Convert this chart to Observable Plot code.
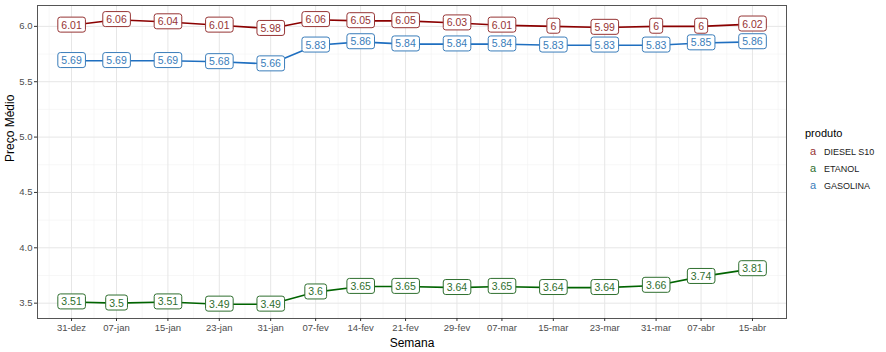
<!DOCTYPE html>
<html>
<head>
<meta charset="utf-8">
<script src="https://cdn.jsdelivr.net/npm/d3@7"></script>
<script src="https://cdn.jsdelivr.net/npm/@observablehq/plot@0.6"></script>
<style>
  body { margin: 0; background: #fff; font-family: Arial, "Liberation Sans", sans-serif; }
  #wrap { position: relative; width: 886px; height: 352px; }
  #legend { position: absolute; left: 805px; top: 127px; font-family: Arial, "Liberation Sans", sans-serif; }
  #legend .title { font-size: 11px; font-weight: normal; color: #000; margin-bottom: 4px; }
  #legend .row { font-size: 9px; color: #1a1a1a; height: 17px; line-height: 17px; white-space: nowrap; }
  #legend .key { display: inline-block; width: 12px; text-align: center; font-size: 11px; margin-left: 2px; margin-right: 5px; }
</style>
</head>
<body>
<div id="wrap"><div id="legend"></div></div>
<script>
// ---- data ----
const weeks = ["2023-12-31","2024-01-07","2024-01-15","2024-01-23","2024-01-31","2024-02-07","2024-02-14","2024-02-21","2024-02-29","2024-03-07","2024-03-15","2024-03-23","2024-03-31","2024-04-07","2024-04-15"];
const weekLabels = ["31-dez","07-jan","15-jan","23-jan","31-jan","07-fev","14-fev","21-fev","29-fev","07-mar","15-mar","23-mar","31-mar","07-abr","15-abr"];
const produtos = ["DIESEL S10","ETANOL","GASOLINA"];
const diesel   = [6.01,6.06,6.04,6.01,5.98,6.06,6.05,6.05,6.03,6.01,6.00,5.99,6.00,6.00,6.02];
const etanol   = [3.51,3.50,3.51,3.49,3.49,3.60,3.65,3.65,3.64,3.65,3.64,3.64,3.66,3.74,3.81];
const gasolina = [5.69,5.69,5.69,5.68,5.66,5.83,5.86,5.84,5.84,5.84,5.83,5.83,5.83,5.85,5.86];
const yTicks = [3.5,4.0,4.5,5.0,5.5,6.0];
const yMinor = [3.75,4.25,4.75,5.25,5.75];

const lineColors  = {"DIESEL S10":"#8B0000","ETANOL":"#006400","GASOLINA":"#1F6FC0"};
const labelColors = {"DIESEL S10":"#963434","ETANOL":"#2F6F2F","GASOLINA":"#3A7DBA"};

// ---- build table ----
const dates = weeks.map(d => new Date(d + "T00:00:00Z"));
const series = {"DIESEL S10": diesel, "ETANOL": etanol, "GASOLINA": gasolina};
const data = [];
for (const p of produtos) series[p].forEach((v, i) => data.push({produto: p, semana: dates[i], preco: v}));

// ggplot-like 5% expansion
const xt = dates.map(d => +d);
const xMin = d3.min(xt), xMax = d3.max(xt), xSpan = xMax - xMin;
const xDomain = [new Date(xMin - 0.05 * xSpan), new Date(xMax + 0.05 * xSpan)];
const yMin = d3.min(data, d => d.preco), yMax = d3.max(data, d => d.preco), ySpan = yMax - yMin;
const yDomain = [yMin - 0.05 * ySpan, yMax + 0.05 * ySpan];

// minor x breaks: midpoints, extended one half-step at ends if inside limits
const xMinorT = [];
for (let i = 0; i < xt.length - 1; i++) xMinorT.push((xt[i] + xt[i + 1]) / 2);
const firstMinor = xt[0] - (xt[1] - xt[0]) / 2;
const lastMinor = xt[xt.length - 1] + (xt[xt.length - 1] - xt[xt.length - 2]) / 2;
if (firstMinor >= +xDomain[0]) xMinorT.unshift(firstMinor);
if (lastMinor <= +xDomain[1]) xMinorT.push(lastMinor);
const xMinor = xMinorT.map(t => new Date(t));

const labelMap = new Map(xt.map((t, i) => [t, weekLabels[i]]));
const font = "Arial, 'Liberation Sans', sans-serif";

const marks = [
  Plot.ruleY(yMinor, {stroke: "#f2f2f2", strokeWidth: 0.6}),
  Plot.ruleX(xMinor, {stroke: "#f2f2f2", strokeWidth: 0.6}),
  Plot.ruleY(yTicks, {stroke: "#e6e6e6", strokeWidth: 1}),
  Plot.ruleX(dates, {stroke: "#e6e6e6", strokeWidth: 1}),
  Plot.frame({stroke: "#555", strokeWidth: 1}),
  Plot.axisY({ticks: yTicks, tickFormat: d3.format(".1f"), tickSize: 3, tickPadding: 2, stroke: "#333", fill: "#4d4d4d", fontSize: 9.5, label: null}),
  Plot.axisX({ticks: dates, tickFormat: d => labelMap.get(+d), tickSize: 3, tickPadding: 3, stroke: "#333", fill: "#4d4d4d", fontSize: 9.5, label: null}),
  Plot.text(["Semana"], {frameAnchor: "bottom", lineAnchor: "middle", dy: 25, fontSize: 12, fill: "#000"}),
  Plot.text(["Preço Médio"], {frameAnchor: "left", lineAnchor: "middle", rotate: -90, dx: -27, fontSize: 12, fill: "#000"})
];
for (const p of produtos) {
  marks.push(Plot.line(data.filter(d => d.produto === p), {x: "semana", y: "preco", stroke: lineColors[p], strokeWidth: 1.6}));
}
for (const p of produtos) {
  marks.push(Plot.text(data.filter(d => d.produto === p), {
    x: "semana", y: "preco", text: d => String(d.preco), fill: labelColors[p],
    fontSize: 10.5, ariaDescription: "label-" + p
  }));
}

const chart = Plot.plot({
  width: 886, height: 352,
  marginLeft: 37, marginRight: 100, marginTop: 5, marginBottom: 34,
  style: {fontFamily: font, background: "#fff"},
  x: {type: "utc", domain: xDomain},
  y: {domain: yDomain},
  marks
});
const wrap = document.getElementById("wrap");
wrap.insertBefore(chart, wrap.firstChild);

// label boxes (geom_label style) behind each label text
for (const p of produtos) {
  const g = chart.querySelector(`g[aria-description="label-${p}"]`);
  if (!g) continue;
  for (const t of Array.from(g.querySelectorAll("text"))) {
    const b = t.getBBox();
    const padX = 3.5, padY = 1.5;
    const r = document.createElementNS("http://www.w3.org/2000/svg", "rect");
    r.setAttribute("x", b.x - padX);
    r.setAttribute("y", b.y - padY);
    r.setAttribute("width", b.width + 2 * padX);
    r.setAttribute("height", b.height + 2 * padY);
    r.setAttribute("rx", 2.5);
    r.setAttribute("fill", "#fff");
    r.setAttribute("stroke", labelColors[p]);
    r.setAttribute("stroke-width", 1);
    if (t.getAttribute("transform")) r.setAttribute("transform", t.getAttribute("transform"));
    g.insertBefore(r, t);
  }
}

// legend
const lg = document.getElementById("legend");
lg.innerHTML = `<div class="title">produto</div>` + produtos.map(p =>
  `<div class="row"><span class="key" style="color:${labelColors[p]}">a</span>${p}</div>`).join("");
</script>
</body>
</html>
